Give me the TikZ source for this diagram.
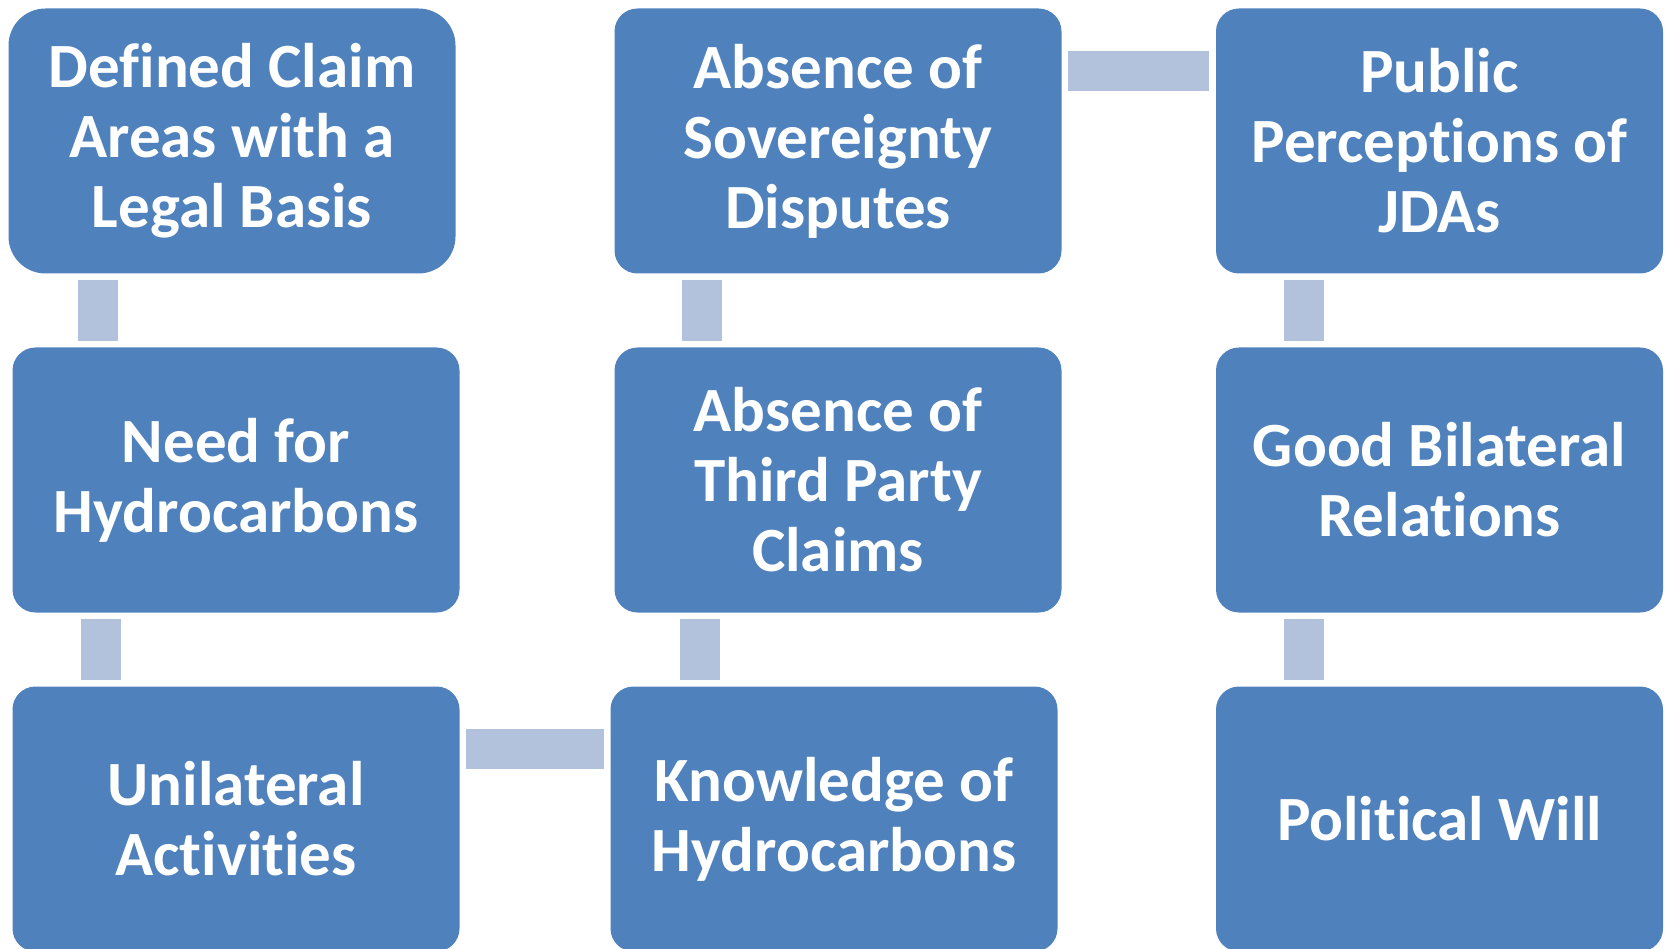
\documentclass[tikz,border=0pt]{standalone}
\usepackage{fontspec}
\setmainfont{Carlito}[Ligatures=NoCommon]
\definecolor{boxblue}{HTML}{4F81BD}
\definecolor{linkblue}{HTML}{B3C2DC}

\tikzset{
    factor/.style={fill=boxblue, text=white, rounded corners=23pt, inner sep=0pt,
        minimum width=447pt, minimum height=265pt, align=center,
        font=\fontsize{63}{70}\selectfont\bfseries},
    link/.style={draw=linkblue, line width=40pt, shorten <=6.5pt, shorten >=6.5pt}
}

\begin{document}
\begin{tikzpicture}[x=1pt, y=-1pt]
    \useasboundingbox (0, 0) rectangle (1667, 949);
    \clip (0, 0) rectangle (1667, 949);

    \node[factor, rounded corners=37pt] (defined) at (232, 141) {Defined Claim\\Areas with a\\Legal Basis};
    \node[factor] (need) at (236, 480) {Need for\\Hydrocarbons};
    \node[factor] (unilateral) at (236, 819) {Unilateral\\Activities};

    \node[factor] (sovereignty) at (838, 141) {Absence of\\Sovereignty\\Disputes};
    \node[factor] (thirdparty) at (838, 480) {Absence of\\Third Party\\Claims};
    \node[factor] (knowledge) at (834, 819) {Knowledge of\\Hydrocarbons};

    \node[factor] (perceptions) at (1439.5, 141) {Public\\Perceptions of\\JDAs};
    \node[factor] (relations) at (1439.5, 480) {Good Bilateral\\Relations};
    \node[factor] (will) at (1439.5, 819) {Political Will};

    \draw[link] ([xshift=90pt]defined.south west) -- ([xshift=90pt]defined.south west |- need.north);
    \draw[link] ([xshift=89pt]need.south west) -- ([xshift=89pt]need.south west |- unilateral.north);
    \draw[link] ([yshift=-62.5pt]unilateral.north east) -- ([yshift=-62.5pt]unilateral.north east -| knowledge.west);
    \draw[link] ([xshift=86pt]thirdparty.south west) -- ([xshift=86pt]thirdparty.south west |- knowledge.north);
    \draw[link] ([xshift=88pt]sovereignty.south west) -- ([xshift=88pt]sovereignty.south west |- thirdparty.north);
    \draw[link] ([yshift=-62.5pt]sovereignty.north east) -- ([yshift=-62.5pt]sovereignty.north east -| perceptions.west);
    \draw[link] ([xshift=88.5pt]perceptions.south west) -- ([xshift=88.5pt]perceptions.south west |- relations.north);
    \draw[link] ([xshift=88.5pt]relations.south west) -- ([xshift=88.5pt]relations.south west |- will.north);
\end{tikzpicture}
\end{document}
